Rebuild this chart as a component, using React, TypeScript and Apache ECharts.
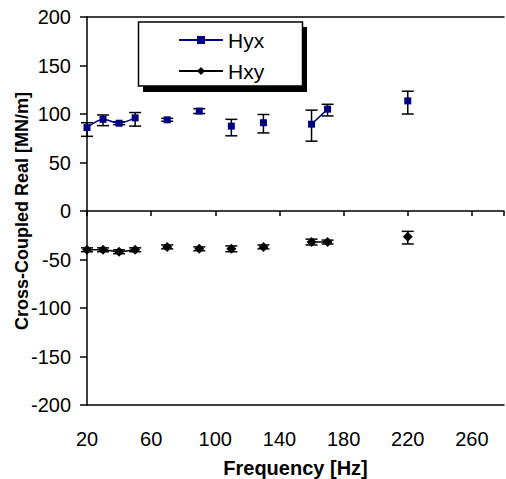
import React, { useEffect, useRef } from "react";
import * as echarts from "echarts";

// Frequencies [Hz]
const hyxFreq = [20, 30, 40, 50, 70, 90, 110, 130, 160, 170, 220];
const hyxVal = [86, 94.5, 90.5, 96, 94, 103, 87.5, 91, 89.5, 105, 113.5];
const hyxLow = [77, 88, 89, 87.5, 92.5, 100.5, 77.5, 80.5, 72, 98, 100];
const hyxHigh = [91, 99, 92, 101.5, 95.5, 105.5, 94.5, 99.5, 104, 110, 123.5];

const hxyFreq = [20, 30, 40, 50, 70, 90, 110, 130, 160, 170, 220];
const hxyVal = [-40, -40, -42, -40, -37, -39, -39, -37, -32, -32, -26.5];
const hxyLow = [-42, -42, -44, -42, -39, -41, -42, -39, -35, -34, -34];
const hxyHigh = [-38, -38, -40, -38, -35, -37, -36, -35, -29, -30, -21];

const yTicks = { min: -200, max: 200, step: 50 };
const xTicks = { min: 20, max: 280, step: 40 };

// break the line where a frequency step (10 Hz) is missing
function lineData(freq: number[], vals: number[]) {
  const out: any[] = [];
  for (let i = 0; i < freq.length; i++) {
    if (i > 0 && freq[i] - freq[i - 1] > 10) out.push([freq[i - 1] + 10, "-"]);
    out.push([freq[i], vals[i]]);
  }
  return out;
}
function errData(freq: number[], lo: number[], hi: number[]) {
  return freq.map((f, i) => [f, lo[i], hi[i]]);
}

const FONT = "'Liberation Sans', Arial, sans-serif";
const GRID = { left: 87, right: 2, top: 17, bottom: 74 };
const H = 479;

export default function App() {
  const ref = useRef<HTMLDivElement>(null);
  useEffect(() => {
    if (!ref.current) return;
    const chart = echarts.init(ref.current, undefined, { renderer: "svg" });
    const renderErr = (params: any, api: any) => {
      const x = api.value(0);
      const top = api.coord([x, api.value(2)]);
      const bot = api.coord([x, api.value(1)]);
      const w = 6;
      const st = { stroke: "#000", lineWidth: 1.5 };
      return {
        type: "group",
        children: [
          { type: "line", shape: { x1: top[0], y1: top[1], x2: bot[0], y2: bot[1] }, style: st },
          { type: "line", shape: { x1: top[0] - w, y1: top[1], x2: top[0] + w, y2: top[1] }, style: st },
          { type: "line", shape: { x1: bot[0] - w, y1: bot[1], x2: bot[0] + w, y2: bot[1] }, style: st },
        ],
      };
    };
    const axisLineStyle = { color: "#000", width: 1.5 };
    // offset placing the tick-bearing axis on y = 0 (middle of the symmetric y range)
    const plotH = H - GRID.top - GRID.bottom;
    const zeroOffset = -plotH * (yTicks.max / (yTicks.max - yTicks.min));
    chart.setOption({
      animation: false,
      backgroundColor: "#fff",
      textStyle: { fontFamily: FONT },
      grid: { ...GRID, containLabel: false, outerBoundsMode: "none" },
      graphic: [
        { type: "rect", z: 50, shape: { x: 143, y: 27, width: 164, height: 65 }, style: { fill: "#000" } },
        { type: "rect", z: 51, shape: { x: 138.5, y: 22, width: 164, height: 64 }, style: { fill: "#fff", stroke: "#000", lineWidth: 1.5 } },
      ],
      legend: {
        z: 60,
        left: 178,
        top: 29,
        orient: "vertical",
        padding: 0,
        itemWidth: 44,
        itemHeight: 10,
        itemGap: 9,
        textStyle: { fontSize: 21, color: "#000", fontFamily: FONT, lineHeight: 22 },
        data: ["Hyx", "Hxy"],
      },
      xAxis: [
        {
          type: "value",
          min: xTicks.min,
          max: xTicks.max,
          interval: xTicks.step,
          position: "bottom",
          axisLine: { show: true, onZero: false, lineStyle: axisLineStyle },
          axisTick: { show: false },
          axisLabel: { fontSize: 20, color: "#000", margin: 24, showMaxLabel: false, fontFamily: FONT },
          splitLine: { show: false },
          name: "Frequency [Hz]",
          nameLocation: "middle",
          nameGap: 53,
          nameMoveOverlap: false,
          nameTextStyle: { fontSize: 20, fontWeight: "bold", color: "#000", fontFamily: FONT, lineHeight: 20 },
        },
        {
          type: "value",
          min: xTicks.min,
          max: xTicks.max,
          interval: xTicks.step,
          position: "top",
          offset: zeroOffset,
          axisLine: { show: true, onZero: false, lineStyle: axisLineStyle },
          axisTick: { show: true, length: 5, inside: true, lineStyle: axisLineStyle },
          axisLabel: { show: false },
          splitLine: { show: false },
        },
        {
          type: "value",
          min: xTicks.min,
          max: xTicks.max,
          interval: xTicks.step,
          position: "top",
          axisLine: { show: true, onZero: false, lineStyle: axisLineStyle },
          axisTick: { show: false },
          axisLabel: { show: false },
          splitLine: { show: false },
        },
      ],
      yAxis: {
        type: "value",
        min: yTicks.min,
        max: yTicks.max,
        interval: yTicks.step,
        axisLine: { show: true, onZero: false, lineStyle: axisLineStyle },
        axisTick: { show: true, length: 7, inside: false, lineStyle: axisLineStyle },
        axisLabel: { fontSize: 20, color: "#000", margin: 16, fontFamily: FONT },
        splitLine: { show: false },
        name: "Cross-Coupled Real [MN/m]",
        nameLocation: "middle",
        nameGap: 56,
        nameMoveOverlap: false,
        nameTextStyle: { fontSize: 18, fontWeight: "bold", color: "#000", fontFamily: FONT },
      },
      series: [
        {
          type: "custom",
          name: "errHyx",
          xAxisIndex: 0,
          yAxisIndex: 0,
          renderItem: renderErr,
          encode: { x: 0, y: [1, 2] },
          data: errData(hyxFreq, hyxLow, hyxHigh),
          z: 2,
        },
        {
          type: "custom",
          name: "errHxy",
          xAxisIndex: 0,
          yAxisIndex: 0,
          renderItem: renderErr,
          encode: { x: 0, y: [1, 2] },
          data: errData(hxyFreq, hxyLow, hxyHigh),
          z: 2,
        },
        {
          type: "line",
          name: "Hyx",
          xAxisIndex: 0,
          data: lineData(hyxFreq, hyxVal),
          connectNulls: false,
          smooth: 0.25,
          symbol: "rect",
          symbolSize: 7,
          color: "#000080",
          itemStyle: { color: "#000080" },
          lineStyle: { color: "#000080", width: 1.5 },
          z: 3,
        },
        {
          type: "line",
          name: "Hxy",
          xAxisIndex: 0,
          data: lineData(hxyFreq, hxyVal),
          connectNulls: false,
          smooth: 0.25,
          symbol: "diamond",
          symbolSize: 10,
          color: "#000",
          itemStyle: { color: "#000" },
          lineStyle: { color: "#000", width: 1.5 },
          z: 3,
        },
      ],
    });
    return () => chart.dispose();
  }, []);
  return (
    <div
      ref={ref}
      style={{ position: "fixed", left: 0, top: 0, width: 506, height: H }}
    />
  );
}
